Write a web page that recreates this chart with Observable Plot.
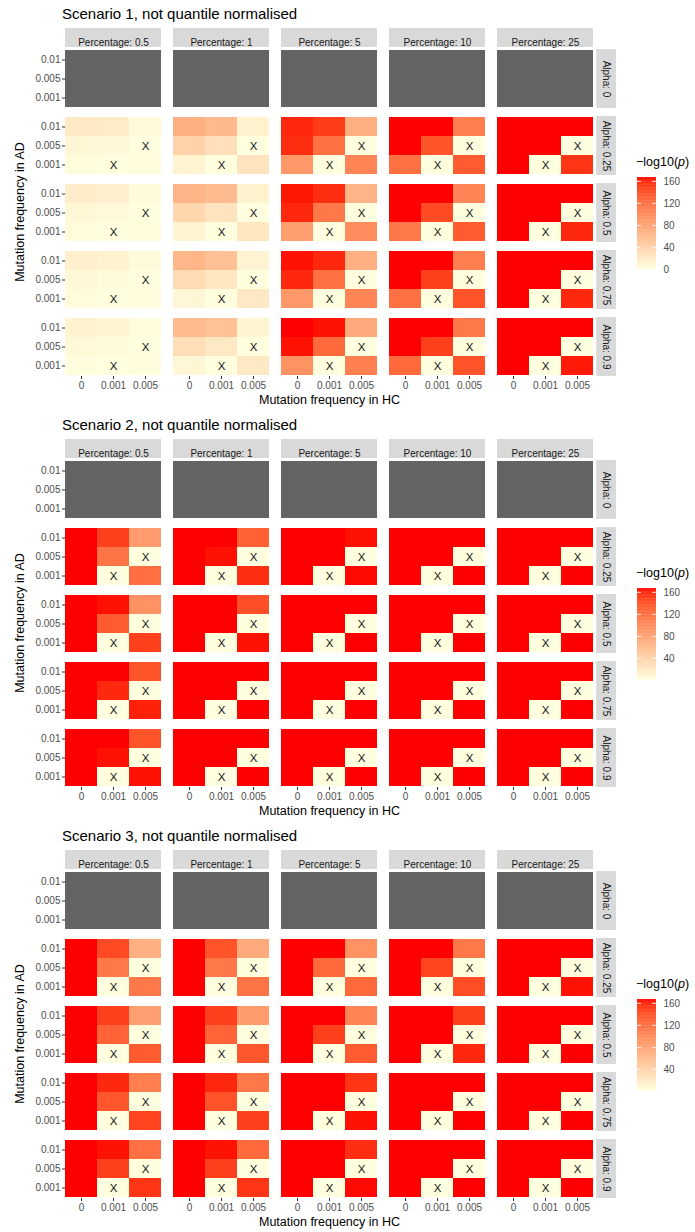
<!DOCTYPE html>
<html><head><meta charset="utf-8">
<script src="https://cdn.jsdelivr.net/npm/d3@7"></script>
<script src="https://cdn.jsdelivr.net/npm/@observablehq/plot@0.6"></script>
<style>
html,body{margin:0;padding:0;background:#fff;overflow:hidden}
body{font-family:"Liberation Sans",Arial,sans-serif;color:#000}
.block{position:relative;width:695px;height:411px;overflow:hidden}
.title{position:absolute;left:62px;top:6px;font-size:15px;line-height:15px;white-space:nowrap}
.xlab{position:absolute;left:65px;width:529px;text-align:center;top:394px;font-size:12.5px;line-height:13px;white-space:nowrap}
.ylab{position:absolute;left:20px;top:212px;transform:translate(-50%,-50%) rotate(-90deg);font-size:12.5px;line-height:13px;white-space:nowrap}
.ltitle{position:absolute;left:636px;top:156px;font-size:12.5px;line-height:13px;white-space:nowrap}
.plot{position:absolute;left:0;top:0}
.legend{position:absolute;left:600px;top:160px}
</style></head><body><div id="root"></div>
<script>
// ---- categories / tick labels ----
const percentages = [0.5, 1, 5, 10, 25];
const alphas = [0, 0.25, 0.5, 0.75, 0.9];
const hcFreq = ["0", "0.001", "0.005"];          // x (columns)
const adFreq = ["0.01", "0.005", "0.001"];       // y (rows, top to bottom)
const legendTicks = [0, 40, 80, 120, 160];
const titles = ["Scenario 1, not quantile normalised", "Scenario 2, not quantile normalised", "Scenario 3, not quantile normalised"];

// ---- values: -log10(p); per alpha (0.25,0.5,0.75,0.9) -> per percentage -> 9 cells
// cell order: AD 0.01 [HC 0,0.001,0.005], AD 0.005 [...], AD 0.001 [...]; alpha 0 = missing
const scenario1 = [
  [[20,18,5, 8,6,0, 3,0,3], [70,62,12, 40,28,0, 10,0,25], [160,152,70, 158,120,0, 90,0,105], [167,167,110, 167,140,0, 120,0,135], [167,167,167, 167,167,0, 167,0,155]],
  [[16,14,4, 7,5,0, 3,0,3], [66,60,12, 36,25,0, 10,0,22], [164,158,66, 160,115,0, 85,0,100], [167,167,105, 167,145,0, 115,0,135], [167,167,167, 167,167,0, 167,0,160]],
  [[14,12,4, 6,4,0, 3,0,2], [64,56,10, 32,22,0, 8,0,20], [165,160,70, 160,120,0, 90,0,105], [167,167,110, 167,150,0, 120,0,140], [167,167,167, 167,167,0, 167,0,160]],
  [[12,10,3, 5,4,0, 2,0,2], [60,55,10, 30,20,0, 8,0,20], [167,165,75, 165,125,0, 95,0,110], [167,167,115, 167,150,0, 125,0,140], [167,167,167, 167,167,0, 167,0,163]]
];
const scenario2 = [
  [[167,150,88, 167,118,0.5, 167,0.5,122], [167,167,132, 167,165,0.5, 167,0.5,158], [167,167,165, 167,167,0.5, 167,0.5,166], [167,167,167, 167,167,0.5, 167,0.5,167], [167,167,167, 167,167,0.5, 167,0.5,167]],
  [[167,165,95, 167,135,0.5, 167,0.5,150], [167,167,142, 167,167,0.5, 167,0.5,165], [167,167,167, 167,167,0.5, 167,0.5,167], [167,167,167, 167,167,0.5, 167,0.5,167], [167,167,167, 167,167,0.5, 167,0.5,167]],
  [[167,167,140, 167,160,0.5, 167,0.5,162], [167,167,167, 167,167,0.5, 167,0.5,167], [167,167,167, 167,167,0.5, 167,0.5,167], [167,167,167, 167,167,0.5, 167,0.5,167], [167,167,167, 167,167,0.5, 167,0.5,167]],
  [[167,167,140, 167,165,0.5, 167,0.5,165], [167,167,167, 167,167,0.5, 167,0.5,167], [167,167,167, 167,167,0.5, 167,0.5,167], [167,167,167, 167,167,0.5, 167,0.5,167], [167,167,167, 167,167,0.5, 167,0.5,167]]
];
const scenario3 = [
  [[167,145,70, 167,115,0.5, 167,0.5,115], [167,140,75, 167,115,0.5, 167,0.5,118], [167,167,95, 167,125,0.5, 167,0.5,125], [167,167,115, 167,148,0.5, 167,0.5,143], [167,167,167, 167,167,0.5, 167,0.5,165]],
  [[167,150,85, 167,130,0.5, 167,0.5,135], [167,150,88, 167,130,0.5, 167,0.5,138], [167,167,105, 167,150,0.5, 167,0.5,135], [167,167,150, 167,167,0.5, 167,0.5,160], [167,167,167, 167,167,0.5, 167,0.5,167]],
  [[167,160,110, 167,138,0.5, 167,0.5,148], [167,160,115, 167,140,0.5, 167,0.5,150], [167,167,155, 167,167,0.5, 167,0.5,165], [167,167,167, 167,167,0.5, 167,0.5,167], [167,167,167, 167,167,0.5, 167,0.5,167]],
  [[167,165,120, 167,150,0.5, 167,0.5,155], [167,165,125, 167,150,0.5, 167,0.5,155], [167,167,158, 167,167,0.5, 167,0.5,166], [167,167,167, 167,167,0.5, 167,0.5,167], [167,167,167, 167,167,0.5, 167,0.5,167]]
];
const scenarios = [scenario1, scenario2, scenario3];

// ---- layout ----
const W = 695, H = 411;
const mT = 49, mB = 35, mL = 65, mR = 101;
const gapX = 12, gapY = 8;
const FW = (W - mL - mR - 4 * gapX) / 5;
const FH = (H - mT - mB - 4 * gapY) / 5;
const FONT = "'Liberation Sans', Arial, sans-serif";

function cells(values) {
  const out = [];
  alphas.forEach((a, ai) => percentages.forEach((p, pi) => adFreq.forEach((ad, r) => hcFreq.forEach((hc, c) => {
    out.push({alpha: a, perc: p, ad, hc, v: ai === 0 ? null : values[ai - 1][pi][r * 3 + c]});
  }))));
  return out;
}

const root = document.getElementById("root");
scenarios.forEach((vals, si) => {
  const data = cells(vals);
  const valid = data.filter(d => d.v != null);
  const [lo, hi] = d3.extent(valid, d => d.v);
  const color = {type: "linear", domain: [lo, hi], range: ["#ffffe0", "#ff0000"], interpolate: "lab"};

  const block = document.createElement("div");
  block.className = "block";
  if (si === 2) block.style.height = "410px";
  root.appendChild(block);

  const plot = Plot.plot({
    width: W, height: H,
    marginTop: mT, marginBottom: mB, marginLeft: mL, marginRight: mR,
    style: {fontFamily: FONT, fontSize: "10px", background: "transparent", overflow: "visible"},
    fx: {domain: percentages, paddingInner: gapX / (FW + gapX), paddingOuter: 0, axis: null},
    fy: {domain: alphas, paddingInner: gapY / (FH + gapY), paddingOuter: 0, axis: null},
    x: {domain: hcFreq, padding: 0},
    y: {domain: adFreq, padding: 0},
    color,
    marks: [
      Plot.rect(percentages, {fx: d => d, fy: () => 0, fill: "#d9d9d9", insetTop: -21, insetBottom: FH + 2}),
      Plot.text(percentages, {fx: d => d, fy: () => 0, frameAnchor: "top", textAnchor: "middle", dy: -11, text: d => `Percentage: ${d}`, fill: "#1a1a1a", fontSize: 10}),
      Plot.rect(alphas, {fx: () => 25, fy: d => d, fill: "#d9d9d9", insetLeft: FW + 3, insetRight: -23}),
      Plot.text(alphas, {fx: () => 25, fy: d => d, frameAnchor: "right", textAnchor: "middle", lineAnchor: "middle", dx: 13, rotate: 90, text: d => `Alpha: ${d}`, fill: "#1a1a1a", fontSize: 10}),
      Plot.cell(data.filter(d => d.v == null), {x: "hc", y: "ad", fx: "perc", fy: "alpha", fill: "#646464"}),
      Plot.cell(valid, {x: "hc", y: "ad", fx: "perc", fy: "alpha", fill: "v"}),
      Plot.text(valid.filter(d => d.hc === d.ad), {x: "hc", y: "ad", fx: "perc", fy: "alpha", text: () => "X", fontSize: 11.5, fill: "#111"}),
      Plot.axisX({anchor: "bottom", tickSize: 3, tickPadding: 2, fill: "#4d4d4d", stroke: "#333", label: null, fontSize: 10}),
      Plot.axisY({anchor: "left", tickSize: 3, tickPadding: 2, fill: "#4d4d4d", stroke: "#333", label: null, fontSize: 10})
    ]
  });
  plot.classList.add("plot");
  block.appendChild(plot);

  // legend colour bar (vertical)
  const k = 0.55, barTop = 17, barH = (hi - lo) * k;
  const n = 120, step = (hi - lo) / n;
  const stripes = d3.range(n).map(i => lo + i * step);
  const ticks = legendTicks.filter(t => t >= lo && t <= hi);
  const legend = Plot.plot({
    width: 95, height: barTop + barH + 12,
    marginTop: barTop, marginBottom: 12, marginLeft: 37, marginRight: 39,
    style: {fontFamily: FONT, fontSize: "10px", background: "transparent", overflow: "visible"},
    x: {domain: [0, 1], axis: null},
    y: {domain: [lo, hi], axis: null},
    color,
    marks: [
      Plot.rect(stripes, {x1: 0, x2: 1, y1: d => d, y2: d => Math.min(hi, d + step * 1.6), fill: d => d + step / 2}),
      Plot.tickY(ticks, {y: d => d, stroke: "white", strokeWidth: 0.8, insetRight: 15}),
      Plot.tickY(ticks, {y: d => d, stroke: "white", strokeWidth: 0.8, insetLeft: 15}),
      Plot.axisY(ticks, {anchor: "right", tickSize: 0, tickPadding: 7, fill: "#4d4d4d", label: null, fontSize: 10})
    ]
  });
  legend.classList.add("legend");
  block.appendChild(legend);

  const t = document.createElement("div"); t.className = "title"; t.textContent = titles[si]; block.appendChild(t);
  const xl = document.createElement("div"); xl.className = "xlab"; xl.textContent = "Mutation frequency in HC"; block.appendChild(xl);
  const yl = document.createElement("div"); yl.className = "ylab"; yl.textContent = "Mutation frequency in AD"; block.appendChild(yl);
  const lt = document.createElement("div"); lt.className = "ltitle"; lt.innerHTML = "\u2212log10(<i>p</i>)"; block.appendChild(lt);
});
</script></body></html>
